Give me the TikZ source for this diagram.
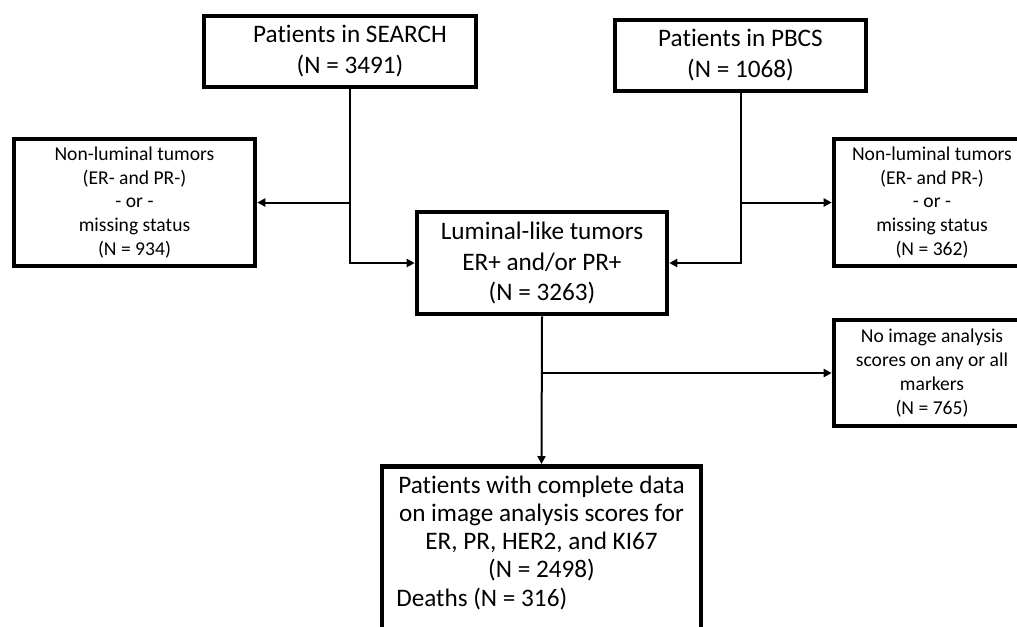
\documentclass[tikz,border=0pt]{standalone}
\usepackage{fontspec}
\setmainfont{Carlito}[Ligatures={NoCommon}]
\usetikzlibrary{arrows.meta}
\begin{document}
\begin{tikzpicture}[x=0.75pt,y=-0.75pt,
  box/.style={draw,line width=3.4pt,inner sep=0pt,align=center},
  big/.style={font=\fontsize{18.9}{23.2}\selectfont},
  bigb/.style={font=\fontsize{18.9}{20.9}\selectfont},
  small/.style={font=\fontsize{14.7}{17.8}\selectfont},
  conn/.style={line width=1.5pt,-{Triangle[length=6pt,width=6pt]}}]
\useasboundingbox (0,0) rectangle (1017,626);
\clip (0,0) rectangle (1017,626);
\fill[white] (0,0) rectangle (1017,626);
\node[box,minimum width=272*0.75pt,minimum height=71*0.75pt] (searchbox) at (340,51.5) {};
\node[big,align=center,inner sep=0pt] (search) at (350,51.5) {Patients in SEARCH\\(N = 3491)};
\node[box,big,minimum width=251*0.75pt,minimum height=71*0.75pt] (pbcs) at (740.5,55.5) {Patients in PBCS\\(N = 1068)};
\node[box,small,minimum width=241*0.75pt,minimum height=127*0.75pt] (left) at (134.5,202.5) {Non-luminal tumors\\(ER- and PR-)\\- or -\\missing status\\(N = 934)};
\node[box,small,minimum width=196*0.75pt,minimum height=127*0.75pt] (right) at (932,202.5) {Non-luminal tumors\\(ER- and PR-)\\- or -\\missing status\\(N = 362)};
\node[box,big,minimum width=250*0.75pt,minimum height=102*0.75pt] (lum) at (542,263) {Luminal-like tumors\\ER+ and/or PR+\\(N = 3263)};
\node[box,small,minimum width=196*0.75pt,minimum height=106*0.75pt] (noimg) at (932,373) {No image analysis\\scores on any or all\\markers\\(N = 765)};
\node[box,minimum width=319*0.75pt,minimum height=192*0.75pt,anchor=north] (final) at (541.5,464) {};
\node[bigb,align=center,inner sep=0pt,anchor=base] (ftext) at (541.5,577) {Patients with complete data\\on image analysis scores for\\ER, PR, HER2, and KI67\\(N = 2498)};
\node[big,inner sep=0pt,anchor=base west] (deaths) at (396,606) {Deaths (N = 316)};
\coordinate (sOut) at (search.center |- searchbox.south);
\draw[conn] (sOut) |- (lum.west);
\draw[conn] (sOut |- left.east) -- (left.east);
\draw[conn] (pbcs.south) |- (lum.east);
\draw[conn] (pbcs.south |- right.west) -- (right.west);
\draw[conn] (lum.south) -- (final.north);
\draw[conn] (lum.south |- noimg.west) -- (noimg.west);
\end{tikzpicture}
\end{document}
